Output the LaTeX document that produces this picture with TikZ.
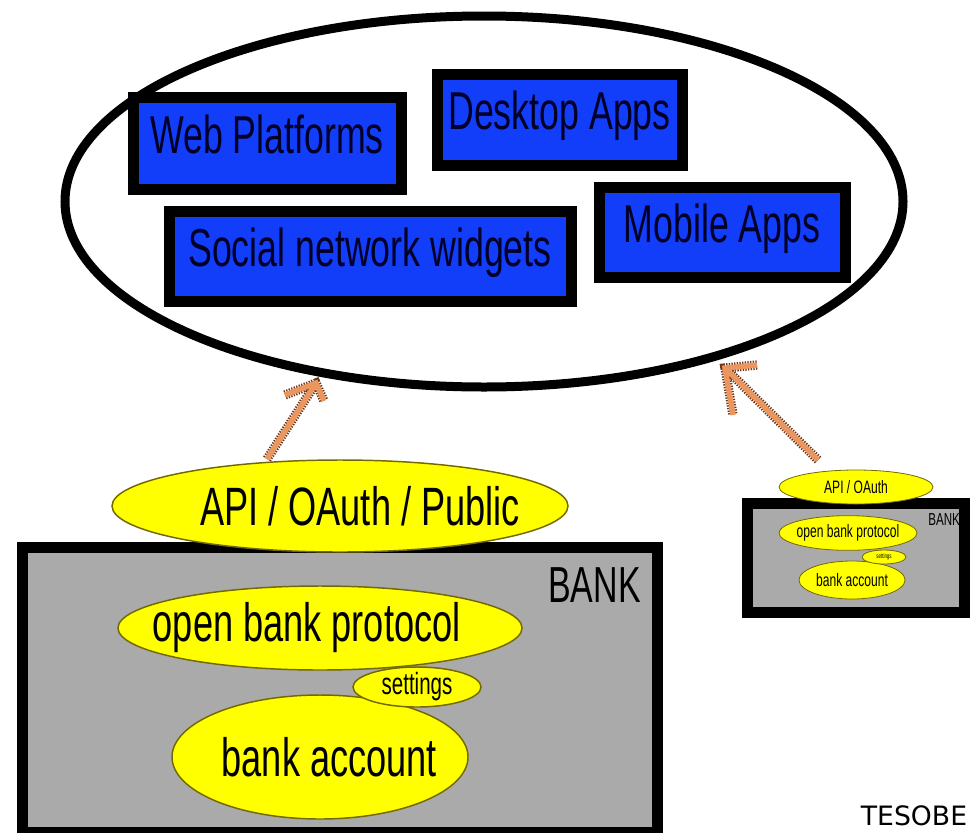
\documentclass[tikz,border=0pt]{standalone}
\usepackage{fontspec}
\setmainfont{Liberation Sans}
\newfontfamily\cond[FakeStretch=0.67]{Liberation Sans}
\newfontfamily\tesobefont{DejaVu Sans}
\usetikzlibrary{shapes.geometric}
\definecolor{boxblue}{RGB}{18,62,250}
\definecolor{bankgray}{RGB}{170,170,170}
\definecolor{ellyellow}{RGB}{255,255,0}
\definecolor{ellborder}{RGB}{115,105,0}
\definecolor{arrorange}{RGB}{236,150,95}
\definecolor{arrdark}{RGB}{110,55,25}
\tikzset{
  appbox/.style={draw=black, fill=boxblue, line width=8.25pt, rectangle, inner sep=0pt,
    font=\cond\fontsize{40}{44}\selectfont, text=black!85!blue, text height=30pt, text depth=15pt},
  yell/.style={draw=ellborder, fill=ellyellow, line width=1.1pt, ellipse, inner sep=0pt},
  bigtxt/.style={font=\cond\fontsize{40.5}{44}\selectfont, inner sep=0pt},
  smalltxt/.style={font=\cond\fontsize{13.5}{15}\selectfont, inner sep=0pt},
  yellsmall/.style={yell, line width=0.6pt},
  bankbox/.style={draw=black, fill=bankgray, line width=8.25pt, rectangle, inner sep=0pt},
  arrout/.style={line width=7pt, draw=arrdark, dash pattern=on 1pt off 1pt, line cap=butt, line join=miter},
  arrin/.style={line width=4pt, draw=arrorange, line cap=butt, line join=miter}
}
\begin{document}
\begin{tikzpicture}[x=0.75pt,y=-0.75pt]
\useasboundingbox (0,0) rectangle (973,832);
% big ellipse
\node[draw=black, line width=6.75pt, ellipse, inner sep=0pt, minimum width=628.5pt, minimum height=278.25pt] (cloud) at (484,201.5) {};
% app boxes
\node[appbox, minimum width=201pt, minimum height=69pt] (web) at (267,143) {Web Platforms};
\node[appbox, minimum width=183.75pt, minimum height=68.25pt] (desk) at (559.5,119.5) {Desktop Apps};
\node[appbox, minimum width=301.5pt, minimum height=67.5pt] (social) at (370,256) {Social network widgets};
\node[appbox, minimum width=184.5pt, minimum height=67.5pt] (mobile) at (722,232) {Mobile Apps};
% left bank
\node[bankbox, minimum width=476.25pt, minimum height=213.75pt] (bank) at (340,690) {};
\node[font=\cond\fontsize{38}{42}\selectfont, anchor=base east, inner sep=0pt] (banklbl) at (641,602) {BANK};
\node[yell, minimum width=342pt, minimum height=69pt] (api) at (340,506) {};
\node[bigtxt, xshift=15pt] (apitxt) at (api.center) {API / OAuth / Public};
\node[yell, minimum width=303pt, minimum height=63pt] (obp) at (320,628) {};
\node[bigtxt, xshift=-10pt] (obptxt) at (obp.center) {open bank protocol};
\node[yell, minimum width=222pt, minimum height=93pt] (acct) at (320,757) {};
\node[bigtxt, xshift=7pt] (accttxt) at (acct.center) {bank account};
\node[yell, minimum width=96pt, minimum height=30pt] (sett) at (417,687) {};
\node[font=\cond\fontsize{23}{25}\selectfont, inner sep=0pt] (setttxt) at (sett.center) {settings};
% right small bank
\node[rectangle, fill=bankgray, minimum width=162.75pt, minimum height=81.4pt, inner sep=0pt] (sbankfill) at (856,557.75) {};
\node[font=\cond\fontsize{13}{15}\selectfont, anchor=base west, inner sep=0pt] (sbanklbl) at (928,525) {BANK};
\node[draw=black, line width=8.25pt, rectangle, minimum width=162.75pt, minimum height=81.4pt, inner sep=0pt] (sbank) at (856,557.75) {};
\node[yellsmall, minimum width=115.5pt, minimum height=25.5pt] (sapi) at (856,487) {};
\node[smalltxt] (sapitxt) at (sapi.center) {API / OAuth};
\node[yellsmall, minimum width=103.5pt, minimum height=26pt] (sobp) at (848,533) {};
\node[smalltxt] (sobptxt) at (sobp.center) {open bank protocol};
\node[yellsmall, minimum width=79.5pt, minimum height=28.5pt] (sacct) at (852,580) {};
\node[smalltxt] (saccttxt) at (sacct.center) {bank account};
\node[yellsmall, minimum width=33pt, minimum height=10.5pt] (ssett) at (884,557) {};
\node[font=\cond\fontsize{5}{6}\selectfont, inner sep=0pt] (sseetxt) at (ssett.center) {settings};
% arrows
\coordinate (lt) at (267,459);
\coordinate (lh) at (316,383);
\coordinate (lb1) at (285,395);
\coordinate (lb2) at (324,401);
\coordinate (rt) at (818,460);
\coordinate (rh) at (725,368);
\coordinate (rb1) at (757,365);
\coordinate (rb2) at (733,415);
\foreach \s in {arrout,arrin}{
  \draw[\s] (lt) -- (lh);
  \draw[\s] (lb1) -- (lh) -- (lb2);
  \draw[\s] (rt) -- (rh);
  \draw[\s] (rb1) -- (rh) -- (rb2);
}
\node[font=\tesobefont\fontsize{20}{22}\selectfont, anchor=base, inner sep=0pt] (tesobe) at (914,825) {TESOBE};
\end{tikzpicture}
\end{document}
